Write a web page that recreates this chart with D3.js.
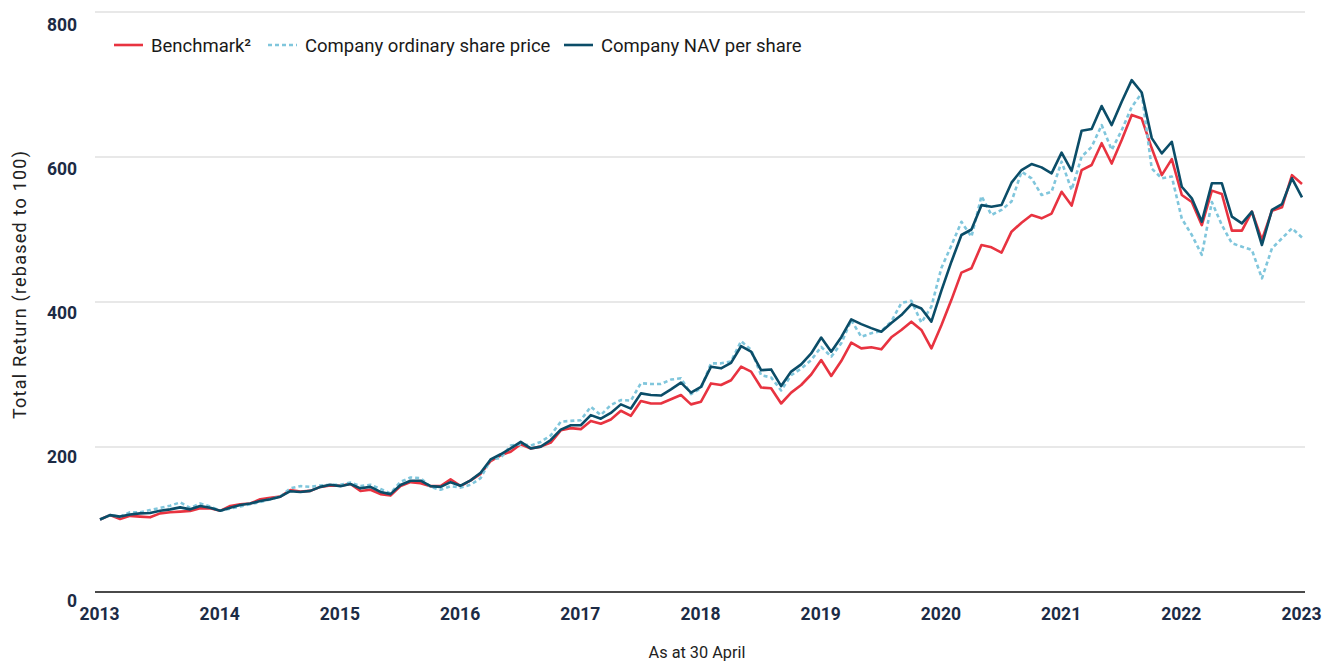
<!DOCTYPE html>
<html><head><meta charset="utf-8">
<script src="https://cdn.jsdelivr.net/npm/d3@7/dist/d3.min.js"></script>
<style>body{margin:0;background:#fff;} svg text{font-family:Roboto,"Noto Sans",sans-serif;}</style>
</head><body><svg id="c" width="1330" height="661"></svg>
<script>
const startYear = 2013;
const yearTicks = [2013,2014,2015,2016,2017,2018,2019,2020,2021,2022,2023];
const yTicks = [0,200,400,600,800];
const seriesNames = ["Benchmark²","Company ordinary share price","Company NAV per share"];
const benchmark = [100,106,100.7,105,104,103,108.5,110,110.8,111.7,115.4,115.4,112,118.6,121,122,128,130,131.5,140.5,138.5,139.5,145,147,146.5,149,139.4,141,135,133,146,151.5,150,146,146,155.5,146,154,163,180.7,188.5,193.5,203.7,198,200.5,206,223,226,224.6,236,232,238,250,243,263.5,260,260,265.8,271.7,258.8,262.5,287.7,285.5,292,310.8,304,282,281,260,275,285.5,300,320,298,318.6,344,336,337.5,334.7,351.3,361.4,372.9,361.4,336,368,403,440.5,446.5,478.6,475.4,468,497,509.4,520,515.4,522,552,533,582,589,619,591,623.4,658,653,612,575,597,547.6,538,506,553.6,549,498.4,498.4,524.6,485.5,526,530.6,575,562.8];
const sharePrice = [100,106,104,110,110,113,116,119,123.6,116,122,118,112,115,118,121,124,128,131.5,143,146,145,147,148,148,151,146,148,142,136,152,158,157,145,141,146,144,148,157,182.8,185,202,204,202,207,216,235,236,237,255.6,244,258,264.7,264,288,287,287,293,294.8,273,281,315.4,315.4,318,346,334,299,296,278,299,308,320,338,324.6,343,375,352,357,360,373,398.6,401.8,371.5,393.6,447,478,510.6,490,546,520,527,538.6,579.7,570.6,547.6,552,593.6,554.5,600.5,614,644,609.7,637,669,688,584,570.6,573,515,492.4,465,538,506,481,476.3,471.7,432.6,474,487.8,501.7,489];
const nav = [100,106,104,107,108.5,109,112,114,116.7,114,118.6,116.3,112,116.3,120,122,125.5,128,131.5,139,138,139.5,145,148,146,149,143,145,138,135,147.6,153.5,153.5,146,145,151.5,146.6,154,164.6,182.8,190,198,207,198,200.5,209.7,224,230,230,244,239,247,258.8,253,274,271.7,271,279.5,288.7,275,283,310.8,308.5,316,339,331.5,306,307,284,304,314,329,351,331.5,351.5,376,369.5,364,359,371,382,396.8,391,372.9,415.6,455.6,492.4,500,533.6,531.5,533.8,564.6,582,590.3,585.7,577.5,606,580.7,636.3,638.6,670.3,644,676.3,706,689,626,605,621,559,543,510.8,563.7,563.7,517.7,508.5,524.6,478.6,527,535,570.6,544.4];

const svg = d3.select("#c");
const x = d3.scaleLinear().domain([startYear, startYear+10]).range([100, 1302]);
const y = d3.scaleLinear().domain([0, 800]).range([592, 12]);
const yLab = d3.scaleLinear().domain([0, 800]).range([601, 25]);
const tAt = i => startYear + i/12;
const ink = "#1c2b45";

// gridlines
svg.append("g").selectAll("line").data(yTicks.filter(d=>d>0)).join("line")
  .attr("x1",95).attr("x2",1305).attr("y1",d=>y(d)).attr("y2",d=>y(d))
  .attr("stroke","#e1e1e1").attr("stroke-width",1.5);
// baseline
svg.append("line").attr("x1",95).attr("x2",1305).attr("y1",y(0)).attr("y2",y(0))
  .attr("stroke","#4a4a4a").attr("stroke-width",2);

// y tick labels
const yAxis = d3.axisLeft(yLab).tickValues(yTicks).tickSize(0).tickPadding(0);
const gy = svg.append("g").attr("transform","translate(77,0)").call(yAxis);
gy.select(".domain").remove();
gy.selectAll("text").attr("font-size",17.5).attr("font-weight",700).attr("fill",ink)
  .attr("font-family","Roboto,sans-serif");

// x tick labels
const xAxis = d3.axisBottom(x).tickValues(yearTicks).tickFormat(d3.format("d")).tickSize(0).tickPadding(0);
const gx = svg.append("g").attr("transform","translate(-1,608)").call(xAxis);
gx.select(".domain").remove();
gx.selectAll("text").attr("font-size",17.5).attr("font-weight",700).attr("fill",ink)
  .attr("font-family","Roboto,sans-serif");

// axis titles
svg.append("text").attr("transform","translate(26,285) rotate(-90)").attr("text-anchor","middle")
  .attr("font-size",18).attr("fill","#222").attr("textLength",268).attr("lengthAdjust","spacing")
  .text("Total Return (rebased to 100)");
svg.append("text").attr("x",697).attr("y",658).attr("text-anchor","middle")
  .attr("font-size",16.3).attr("fill","#222").text("As at 30 April");

const line = d3.line().x((d,i)=>x(tAt(i))).y(d=>y(d));
const styles = [
  {data: benchmark, color:"#e83340", dash:null},
  {data: sharePrice, color:"#80c6dc", dash:"4,3"},
  {data: nav, color:"#0b4d68", dash:null}
];
svg.append("g").selectAll("path").data(styles).join("path")
  .attr("d",d=>line(d.data)).attr("fill","none").attr("stroke",d=>d.color)
  .attr("stroke-width",2.6).attr("stroke-linejoin","round")
  .attr("stroke-dasharray",d=>d.dash);

// legend
const legX = [114, 268, 564];
const leg = svg.append("g");
styles.forEach((s,i)=>{
  leg.append("line").attr("x1",legX[i]).attr("x2",legX[i]+29).attr("y1",45).attr("y2",45)
    .attr("stroke",s.color).attr("stroke-width",2.6).attr("stroke-dasharray",s.dash);
  leg.append("text").attr("x",legX[i]+37).attr("y",51.5).attr("font-size",18.5).attr("fill","#1a1a1a")
    .text(seriesNames[i]);
});
</script></body></html>
